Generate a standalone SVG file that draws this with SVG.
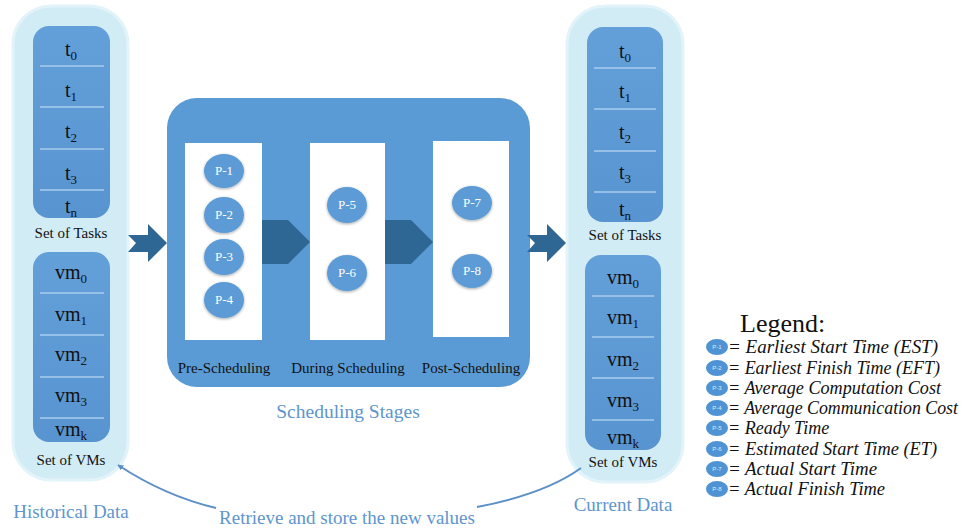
<svg xmlns="http://www.w3.org/2000/svg" width="966" height="531" viewBox="0 0 966 531">
<style>
.cap{fill:#d2ecf6;stroke:#e2f4fa;stroke-width:3}
.ibox{fill:url(#ig)}
.sep{stroke:#a9cdee;stroke-width:1.3}
.lab{font-family:"Liberation Serif","Times New Roman",serif;font-size:20px;fill:#111;text-anchor:middle}
.sub{font-size:13px}
.set{font-family:"Liberation Serif","Times New Roman",serif;font-size:15px;fill:#111;text-anchor:middle}
.cap-t{font-family:"Liberation Serif","Times New Roman",serif;font-size:19px;fill:#5e95cc;text-anchor:middle}
.panel{fill:#ffffff}
.dk{fill:#2f6794}
.pc{fill:#5b9bd5;filter:url(#glow)}
.pt{font-family:"Liberation Serif","Times New Roman",serif;font-size:13px;fill:#fff;text-anchor:middle}
.stg{font-family:"Liberation Serif","Times New Roman",serif;font-size:15px;fill:#111;text-anchor:middle}
.lg{font-family:"Liberation Serif","Times New Roman",serif;font-size:18px;font-style:italic;fill:#111}
.lc{fill:#4f93d4}
.lct{font-family:"Liberation Sans",sans-serif;font-size:6px;fill:#dbe9f7;text-anchor:middle}
.conn{fill:none;stroke:#5b8fc7;stroke-width:2}
</style>
<defs>
<linearGradient id="ig" x1="0" y1="0" x2="0" y2="1">
<stop offset="0" stop-color="#639fd8"/>
<stop offset="1" stop-color="#5894d0"/>
</linearGradient>
<filter id="glow" x="-30%" y="-30%" width="160%" height="160%">
<feGaussianBlur in="SourceAlpha" stdDeviation="1.5"/>
<feOffset dx="0" dy="1"/>
<feComponentTransfer><feFuncA type="linear" slope="0.35"/></feComponentTransfer>
<feMerge><feMergeNode/><feMergeNode in="SourceGraphic"/></feMerge>
</filter>
<marker id="ah" viewBox="0 0 10 10" refX="9" refY="5" markerWidth="6" markerHeight="6" orient="auto-start-reverse" markerUnits="userSpaceOnUse">
<path d="M0,0 L10,5 L0,10 z" fill="#5b8fc7"/>
</marker>
</defs>

<g id="historical">
<rect class="cap" x="13" y="6" width="115" height="474" rx="38"/>
<rect class="ibox" x="33" y="26" width="77" height="192" rx="16"/>
<line class="sep" x1="40" y1="66" x2="104" y2="66"/>
<line class="sep" x1="40" y1="107" x2="104" y2="107"/>
<line class="sep" x1="40" y1="149" x2="104" y2="149"/>
<line class="sep" x1="40" y1="190" x2="104" y2="190"/>
<text class="lab" x="71" y="56">t<tspan class="sub" dy="4">0</tspan></text>
<text class="lab" x="71" y="97">t<tspan class="sub" dy="4">1</tspan></text>
<text class="lab" x="71" y="138">t<tspan class="sub" dy="4">2</tspan></text>
<text class="lab" x="71" y="180">t<tspan class="sub" dy="4">3</tspan></text>
<text class="lab" x="71" y="213">t<tspan class="sub" dy="4">n</tspan></text>
<text class="set" x="71" y="238">Set of Tasks</text>
<rect class="ibox" x="33" y="252" width="77" height="190" rx="16"/>
<line class="sep" x1="40" y1="293" x2="104" y2="293"/>
<line class="sep" x1="40" y1="335" x2="104" y2="335"/>
<line class="sep" x1="40" y1="377" x2="104" y2="377"/>
<line class="sep" x1="40" y1="418" x2="104" y2="418"/>
<text class="lab" x="71" y="279">vm<tspan class="sub" dy="4">0</tspan></text>
<text class="lab" x="71" y="321">vm<tspan class="sub" dy="4">1</tspan></text>
<text class="lab" x="71" y="361">vm<tspan class="sub" dy="4">2</tspan></text>
<text class="lab" x="71" y="402">vm<tspan class="sub" dy="4">3</tspan></text>
<text class="lab" x="71" y="436">vm<tspan class="sub" dy="4">k</tspan></text>
<text class="set" x="71" y="465">Set of VMs</text>
<text class="cap-t" x="71" y="518">Historical Data</text>
</g>

<g id="stages">
<rect x="167" y="98" width="363" height="289" rx="30" fill="#5b9bd5"/>
<rect class="panel" x="185" y="143" width="77" height="197"/>
<rect class="panel" x="310" y="143" width="75" height="197"/>
<rect class="panel" x="433" y="141" width="76" height="196"/>
<polygon class="dk" points="262,220 288,220 310,242 288,264 262,264"/>
<polygon class="dk" points="385,220 411,220 433,242 411,264 385,264"/>
<ellipse class="pc" cx="224" cy="171" rx="20" ry="17"/>
<ellipse class="pc" cx="224" cy="215" rx="20" ry="18"/>
<ellipse class="pc" cx="224" cy="257" rx="20" ry="18"/>
<ellipse class="pc" cx="224" cy="300" rx="20" ry="18"/>
<ellipse class="pc" cx="347" cy="205" rx="20" ry="18"/>
<ellipse class="pc" cx="347" cy="273" rx="20" ry="18"/>
<ellipse class="pc" cx="472" cy="203" rx="20" ry="17"/>
<ellipse class="pc" cx="472" cy="271" rx="20" ry="17"/>
<text class="pt" x="224" y="175">P-1</text>
<text class="pt" x="224" y="219">P-2</text>
<text class="pt" x="224" y="261">P-3</text>
<text class="pt" x="224" y="304">P-4</text>
<text class="pt" x="347" y="209">P-5</text>
<text class="pt" x="347" y="277">P-6</text>
<text class="pt" x="472" y="207">P-7</text>
<text class="pt" x="472" y="275">P-8</text>
<text class="stg" x="224" y="373">Pre-Scheduling</text>
<text class="stg" x="348" y="373">During Scheduling</text>
<text class="stg" x="471" y="373">Post-Scheduling</text>
<text class="cap-t" x="348" y="418" style="font-size:19.5px">Scheduling Stages</text>
</g>

<g id="current">
<rect class="cap" x="567" y="6" width="116" height="476" rx="38"/>
<rect class="ibox" x="587" y="27" width="76" height="195" rx="16"/>
<line class="sep" x1="594" y1="68" x2="656" y2="68"/>
<line class="sep" x1="594" y1="109" x2="656" y2="109"/>
<line class="sep" x1="594" y1="151" x2="656" y2="151"/>
<line class="sep" x1="594" y1="192" x2="656" y2="192"/>
<text class="lab" x="625" y="58">t<tspan class="sub" dy="4">0</tspan></text>
<text class="lab" x="625" y="98">t<tspan class="sub" dy="4">1</tspan></text>
<text class="lab" x="625" y="139">t<tspan class="sub" dy="4">2</tspan></text>
<text class="lab" x="625" y="179">t<tspan class="sub" dy="4">3</tspan></text>
<text class="lab" x="625" y="216">t<tspan class="sub" dy="4">n</tspan></text>
<text class="set" x="625" y="240">Set of Tasks</text>
<rect class="ibox" x="585" y="255" width="76" height="195" rx="16"/>
<line class="sep" x1="592" y1="296" x2="654" y2="296"/>
<line class="sep" x1="592" y1="337" x2="654" y2="337"/>
<line class="sep" x1="592" y1="378" x2="654" y2="378"/>
<line class="sep" x1="592" y1="420" x2="654" y2="420"/>
<text class="lab" x="623" y="284">vm<tspan class="sub" dy="4">0</tspan></text>
<text class="lab" x="623" y="324">vm<tspan class="sub" dy="4">1</tspan></text>
<text class="lab" x="623" y="366">vm<tspan class="sub" dy="4">2</tspan></text>
<text class="lab" x="623" y="407">vm<tspan class="sub" dy="4">3</tspan></text>
<text class="lab" x="623" y="444">vm<tspan class="sub" dy="4">k</tspan></text>
<text class="set" x="623" y="467">Set of VMs</text>
<text class="cap-t" x="623" y="511">Current Data</text>
</g>

<g id="connectors">
<polygon class="dk" points="128,235 148,235 148,224 167,243 148,262 148,252 128,252 136,243"/>
<polygon class="dk" points="527,235 547,235 547,224 566,243 547,262 547,252 527,252 535,243"/>
<path class="conn" d="M581,468 Q545,494 477,507"/>
<path class="conn" d="M216,508 Q165,496 118,465" marker-end="url(#ah)"/>
<text class="cap-t" x="347" y="524">Retrieve and store the new values</text>
</g>

<g id="legend">
<text x="740" y="332" font-family="Liberation Serif, Times New Roman, serif" font-size="26" fill="#111">Legend:</text>
<ellipse class="lc" cx="717" cy="347" rx="11" ry="8"/><text class="lct" x="717" y="349">P-1</text>
<ellipse class="lc" cx="717" cy="368" rx="11" ry="8"/><text class="lct" x="717" y="370">P-2</text>
<ellipse class="lc" cx="717" cy="388" rx="11" ry="8"/><text class="lct" x="717" y="390">P-3</text>
<ellipse class="lc" cx="717" cy="408" rx="11" ry="8"/><text class="lct" x="717" y="410">P-4</text>
<ellipse class="lc" cx="717" cy="428" rx="11" ry="8"/><text class="lct" x="717" y="430">P-5</text>
<ellipse class="lc" cx="717" cy="449" rx="11" ry="8"/><text class="lct" x="717" y="451">P-6</text>
<ellipse class="lc" cx="717" cy="469" rx="11" ry="8"/><text class="lct" x="717" y="471">P-7</text>
<ellipse class="lc" cx="717" cy="489" rx="11" ry="8"/><text class="lct" x="717" y="491">P-8</text>
<text class="lg" x="728" y="353" textLength="210" lengthAdjust="spacingAndGlyphs">= Earliest Start Time (EST)</text>
<text class="lg" x="728" y="374" textLength="212" lengthAdjust="spacingAndGlyphs">= Earliest Finish Time (EFT)</text>
<text class="lg" x="728" y="394" textLength="213" lengthAdjust="spacingAndGlyphs">= Average Computation Cost</text>
<text class="lg" x="728" y="414" textLength="230" lengthAdjust="spacingAndGlyphs">= Average Communication Cost</text>
<text class="lg" x="728" y="434">= Ready Time</text>
<text class="lg" x="728" y="455" textLength="209" lengthAdjust="spacingAndGlyphs">= Estimated Start Time (ET)</text>
<text class="lg" x="728" y="475" textLength="149" lengthAdjust="spacingAndGlyphs">= Actual Start Time</text>
<text class="lg" x="728" y="495" textLength="157" lengthAdjust="spacingAndGlyphs">= Actual Finish Time</text>
</g>
</svg>
